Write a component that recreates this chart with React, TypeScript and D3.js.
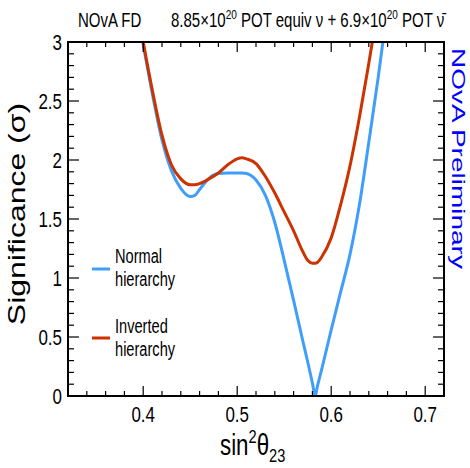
import React from "react";
import * as d3 from "d3";

const sin2theta = [0.39, 0.40, 0.41, 0.42, 0.43, 0.44, 0.45, 0.455, 0.46, 0.47, 0.48, 0.49, 0.50, 0.505, 0.51, 0.52, 0.53, 0.54, 0.55, 0.56, 0.57, 0.575, 0.58, 0.583, 0.585, 0.59, 0.60, 0.61, 0.62, 0.63, 0.64, 0.65, 0.66];
const normalSig = [3.45, 2.98, 2.55, 2.17, 1.91, 1.76, 1.69, 1.70, 1.75, 1.845, 1.885, 1.89, 1.89, 1.89, 1.885, 1.83, 1.70, 1.47, 1.15, 0.81, 0.46, 0.29, 0.11, 0.0, 0.07, 0.23, 0.56, 0.88, 1.20, 1.62, 2.15, 2.70, 3.30];
const invertedSig = [3.45, 3.0, 2.58, 2.21, 1.96, 1.84, 1.79, 1.79, 1.80, 1.84, 1.89, 1.96, 2.01, 2.02, 2.01, 1.97, 1.86, 1.72, 1.56, 1.40, 1.22, 1.15, 1.125, 1.125, 1.13, 1.18, 1.34, 1.62, 1.95, 2.36, 2.82, 3.30, 3.8];
const xTickLabels = [0.4, 0.5, 0.6, 0.7];
const yTickLabels = [0, 0.5, 1, 1.5, 2, 2.5, 3];
const seriesNames = ["Normal hierarchy", "Inverted hierarchy"];

const BLUE = "#3f9efa";
const RED = "#cc3300";
const FONT = "'Liberation Sans', Arial, Helvetica, sans-serif";

const L = 68, R = 444, T = 42, B = 396;

export default function App() {
  const x = d3.scaleLinear().domain([0.32, 0.72]).range([L, R]);
  const y = d3.scaleLinear().domain([0, 3]).range([B, T]);
  const line = d3
    .line<[number, number]>()
    .x((d) => x(d[0]))
    .y((d) => y(d[1]))
    .curve(d3.curveMonotoneX);
  const normalPts = sin2theta.map((s, i) => [s, normalSig[i]] as [number, number]);
  const invPts = sin2theta.map((s, i) => [s, invertedSig[i]] as [number, number]);

  const xMinor = d3.range(0, 21).map((i) => 0.32 + i * 0.02).filter((v) => v <= 0.7201);
  const yMinor = d3.range(0, 31).map((i) => i * 0.1);
  const isMajorX = (v: number) => Math.abs(v * 10 - Math.round(v * 10)) < 1e-6;
  const isMajorY = (v: number) => Math.abs(v * 2 - Math.round(v * 2)) < 1e-6;

  const sx = 0.77;
  const tickColor = "#000";

  return (
    <svg width={470} height={468} style={{ position: "absolute", left: 0, top: 0, background: "#fff" }} fontFamily={FONT}>
      <defs>
        <clipPath id="plotClip">
          <rect x={L} y={T} width={R - L} height={B - T} />
        </clipPath>
      </defs>
      <rect x={0} y={0} width={470} height={468} fill="#fff" />

      {/* Title */}
      <g transform={`translate(78,27) scale(${sx},1)`}>
        <text fontSize={19.5} fill="#000">NOvA FD</text>
      </g>
      <g transform={`translate(171,27) scale(${sx},1)`}>
        <text fontSize={19.5} fill="#000">
          <tspan>8.85×10</tspan>
          <tspan fontSize={13} dy={-8}>20</tspan>
          <tspan dy={8}> POT equiv ν + 6.9×10</tspan>
          <tspan fontSize={13} dy={-8}>20</tspan>
          <tspan dy={8}> POT ν̄</tspan>
        </text>
      </g>

      {/* curves */}
      <g clipPath="url(#plotClip)">
        <path d={line(normalPts) || ""} fill="none" stroke={BLUE} strokeWidth={3} strokeLinejoin="round" />
        <path d={line(invPts) || ""} fill="none" stroke={RED} strokeWidth={3} strokeLinejoin="round" />
      </g>

      {/* ticks */}
      <g stroke={tickColor} strokeWidth={1.2}>
        {xMinor.map((v, i) => {
          const len = isMajorX(v) ? 10 : 5;
          const px = x(v);
          return (
            <g key={"xt" + i}>
              <line x1={px} x2={px} y1={B} y2={B - len} />
              <line x1={px} x2={px} y1={T} y2={T + len} />
            </g>
          );
        })}
        {yMinor.map((v, i) => {
          const len = isMajorY(v) ? 11 : 6;
          const py = y(v);
          return (
            <g key={"yt" + i}>
              <line x1={L} x2={L + len} y1={py} y2={py} />
              <line x1={R} x2={R - len} y1={py} y2={py} />
            </g>
          );
        })}
      </g>

      {/* frame */}
      <rect x={L} y={T} width={R - L} height={B - T} fill="none" stroke="#000" strokeWidth={2} />

      {/* tick labels */}
      {xTickLabels.map((v) => (
        <g key={"xl" + v} transform={`translate(${x(v)},422) scale(${sx},1)`}>
          <text fontSize={22} textAnchor="middle" fill="#000">{d3.format(".1f")(v)}</text>
        </g>
      ))}
      {yTickLabels.map((v) => (
        <g key={"yl" + v} transform={`translate(62,${y(v) + 8}) scale(${sx},1)`}>
          <text fontSize={22} textAnchor="end" fill="#000">{String(v)}</text>
        </g>
      ))}

      {/* axis titles */}
      <g transform={`translate(220,455) scale(${sx},1)`}>
        <text fontSize={29} fill="#000">
          <tspan>sin</tspan>
          <tspan fontSize={19} dy={-12}>2</tspan>
          <tspan dy={12}>θ</tspan>
          <tspan fontSize={19} dy={7}>23</tspan>
        </text>
      </g>
      <g transform={`translate(25,214) scale(0.74,1) rotate(-90)`}>
        <text fontSize={32} textAnchor="middle" fill="#000">Significance (σ)</text>
      </g>
      <g transform={`translate(452,48) scale(0.68,1) rotate(90)`}>
        <text fontSize={28} fill="#0000ff">NOvA Preliminary</text>
      </g>

      {/* legend */}
      <line x1={92} x2={110} y1={269} y2={269} stroke={BLUE} strokeWidth={3} />
      <g transform={`translate(115,263) scale(0.75,1)`}>
        <text fontSize={19.5} fill="#000">
          <tspan x={0}>{seriesNames[0].split(" ")[0]}</tspan>
          <tspan x={0} dy={23}>{seriesNames[0].split(" ")[1]}</tspan>
        </text>
      </g>
      <line x1={92} x2={110} y1={338} y2={338} stroke={RED} strokeWidth={3} />
      <g transform={`translate(115,333) scale(0.75,1)`}>
        <text fontSize={19.5} fill="#000">
          <tspan x={0}>{seriesNames[1].split(" ")[0]}</tspan>
          <tspan x={0} dy={23}>{seriesNames[1].split(" ")[1]}</tspan>
        </text>
      </g>
    </svg>
  );
}
